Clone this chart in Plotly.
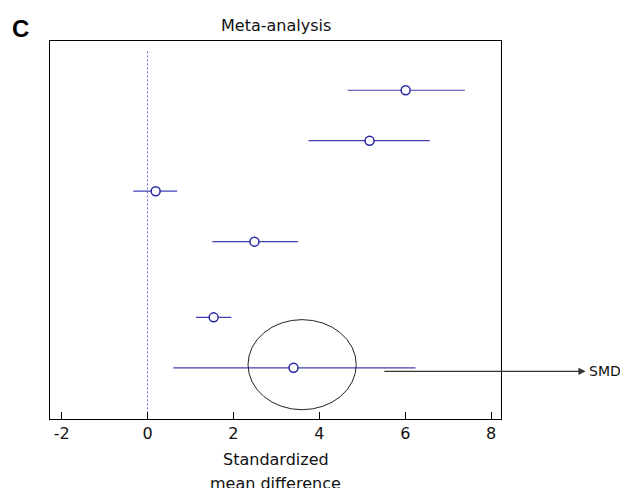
import plotly.graph_objects as go

# Data
smd = [6.01, 5.17, 0.19, 2.49, 1.54, 3.40]
ci_low = [4.66, 3.75, -0.33, 1.51, 1.13, 0.60]
ci_high = [7.39, 6.57, 0.69, 3.50, 1.95, 6.24]
row_pos = [1, 2, 3, 4, 5.5, 6.5]
x_ticks = [-2, 0, 2, 4, 6, 8]

err_plus = [h - m for h, m in zip(ci_high, smd)]
err_minus = [m - l for m, l in zip(smd, ci_low)]

FONT = "DejaVu Sans, Verdana, Tahoma"

fig = go.Figure()
fig.add_trace(go.Scatter(
    x=smd, y=row_pos, mode="markers",
    marker=dict(symbol="circle", size=9, color="white",
                line=dict(color="#2525a0", width=1.5)),
    error_x=dict(type="data", symmetric=False, array=err_plus,
                 arrayminus=err_minus, width=0, thickness=1.2,
                 color="#4040b0"),
    showlegend=False, cliponaxis=False,
))

# reference line at zero
fig.add_shape(type="line", xref="x", yref="y", x0=0, x1=0, y0=0.23, y1=7.51,
              line=dict(color="#6a6ae0", width=1, dash="2px,2px"), layer="below")

# highlight ellipse around pooled estimate
fig.add_shape(type="circle", xref="x", yref="y", x0=2.34, x1=4.86,
              y0=5.545, y1=7.33, line=dict(color="#222222", width=1))

# arrow to SMD label
fig.add_annotation(x=10.2, y=6.57, xref="x", yref="y", ax=5.48, ay=6.57,
                   axref="x", ayref="y", text="", showarrow=True,
                   arrowhead=2, arrowsize=1.2, arrowwidth=1.2,
                   arrowcolor="#333333")
fig.add_annotation(x=1.19, y=0.1268, xref="paper", yref="paper", text="SMD",
                   showarrow=False, xanchor="left", yanchor="middle",
                   font=dict(family=FONT, size=14, color="#111111"))

fig.add_annotation(x=-0.0654, y=1.0325, xref="paper", yref="paper", text="<b>C</b>",
                   showarrow=False, xanchor="center", yanchor="middle",
                   font=dict(family="Liberation Sans, Arial", size=24, color="black"))
fig.add_annotation(x=0.5, y=1.042, xref="paper", yref="paper", text="Meta-analysis",
                   showarrow=False, xanchor="center", yanchor="middle",
                   font=dict(family=FONT, size=16, color="#111111"))
fig.add_annotation(x=0.5, y=-0.108, xref="paper", yref="paper", text="Standardized",
                   showarrow=False, xanchor="center", yanchor="middle",
                   font=dict(family=FONT, size=16, color="#111111"))
fig.add_annotation(x=0.5, y=-0.17, xref="paper", yref="paper", text="mean difference",
                   showarrow=False, xanchor="center", yanchor="middle",
                   font=dict(family=FONT, size=16, color="#111111"))

fig.update_xaxes(range=[-2.27, 8.23], tickvals=x_ticks, ticktext=[str(t) for t in x_ticks],
                 ticks="inside", ticklen=7, tickcolor="black", showline=True,
                 linecolor="black", linewidth=1, mirror=True, showgrid=False,
                 zeroline=False, tickfont=dict(family=FONT, size=16, color="#111111"))
fig.update_yaxes(range=[7.514, 0.024], showticklabels=False, ticks="",
                 showline=True, linecolor="black", linewidth=1, mirror=True,
                 showgrid=False, zeroline=False)

# the page body adds an 8px offset, so the figure is sized 8px smaller
fig.update_layout(width=620, height=480, margin=dict(l=42, r=127, t=33, b=69),
                  plot_bgcolor="white", paper_bgcolor="white")

fig.write_html("out.html")
